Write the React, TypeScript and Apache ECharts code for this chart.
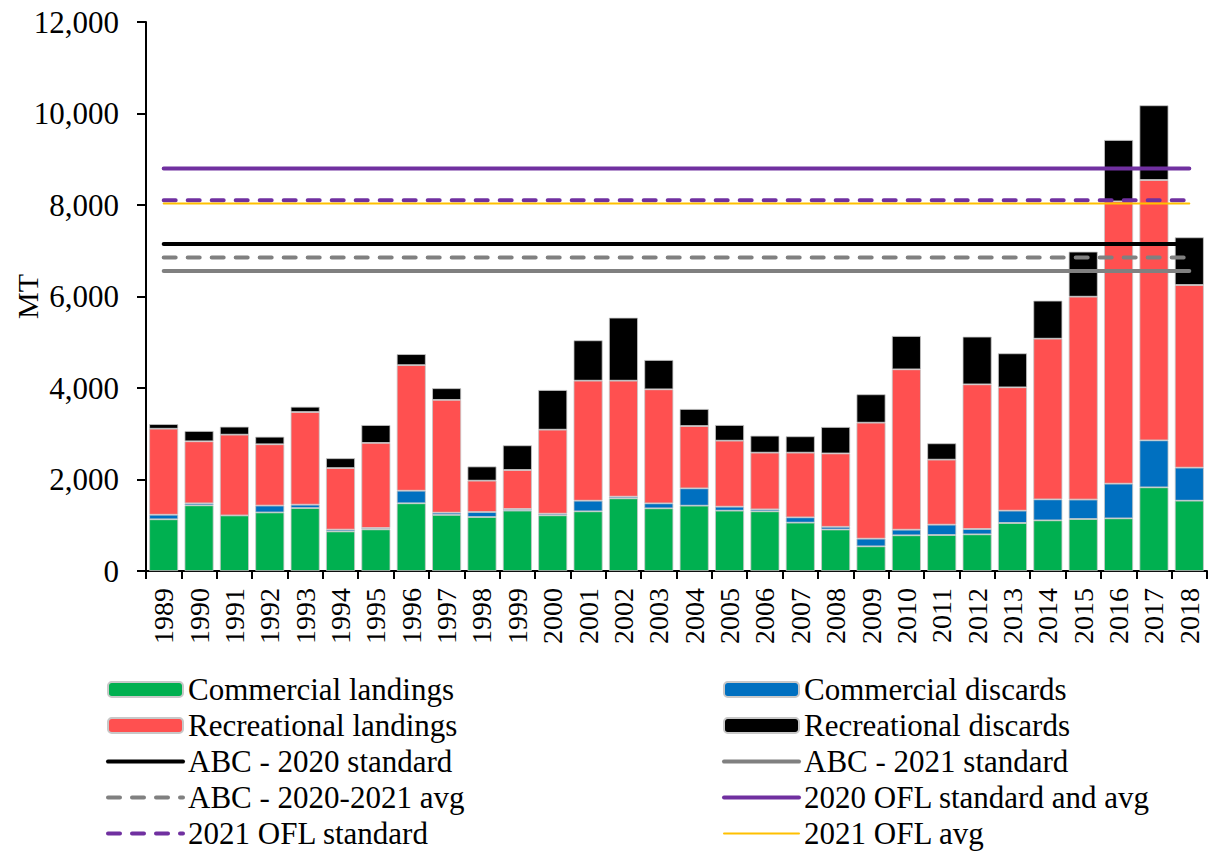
import React, { useEffect, useRef } from "react";
import * as echarts from "echarts";

const years = [
  "1989", "1990", "1991", "1992", "1993", "1994", "1995", "1996", "1997", "1998",
  "1999", "2000", "2001", "2002", "2003", "2004", "2005", "2006", "2007", "2008",
  "2009", "2010", "2011", "2012", "2013", "2014", "2015", "2016", "2017", "2018",
];

const commercialLandings = [
  1130, 1435, 1215, 1280, 1375, 865, 910, 1480, 1225, 1180,
  1320, 1217, 1304, 1588, 1370, 1428, 1319, 1304, 1057, 907,
  539, 780, 787, 801, 1049, 1107, 1137, 1151, 1829, 1537,
];
const commercialDiscards = [
  100, 45, 0, 150, 75, 40, 30, 275, 50, 110,
  35, 36, 233, 37, 109, 379, 87, 44, 116, 59,
  168, 123, 226, 117, 270, 459, 425, 758, 1027, 722,
];
const recreationalLandings = [
  1880, 1355, 1765, 1340, 2025, 1345, 1860, 2745, 2465, 685,
  853, 1836, 2623, 2535, 2492, 1362, 1443, 1239, 1414, 1604,
  2535, 3505, 1421, 3162, 2696, 3512, 4434, 6171, 5690, 3992,
];
const recreationalDiscards = [
  100, 225, 175, 165, 115, 215, 390, 240, 255, 310,
  539, 867, 882, 1377, 641, 372, 342, 371, 357, 578,
  620, 729, 357, 1042, 743, 831, 984, 1341, 1633, 1042,
];

const abc2020Standard = 7150;
const abc2021Standard = 6560;
const abcAvg = 6855;
const ofl2020 = 8800;
const ofl2021Standard = 8105;
const ofl2021Avg = 8035;

const yTicks = { min: 0, max: 12000, interval: 2000 };

const legendLeft = [
  "Commercial landings",
  "Recreational landings",
  "ABC - 2020 standard",
  "ABC - 2020-2021 avg",
  "2021 OFL standard",
];
const legendRight = [
  "Commercial discards",
  "Recreational discards",
  "ABC - 2021 standard",
  "2020 OFL standard and avg",
  "2021 OFL avg",
];
const barNames = [
  "Commercial landings",
  "Commercial discards",
  "Recreational landings",
  "Recreational discards",
];

const FONT = "Liberation Serif";

export default function App() {
  const ref = useRef<HTMLDivElement>(null);

  useEffect(() => {
    document.body.style.margin = "0";
    if (!ref.current) return;
    const chart = echarts.init(ref.current, null, { renderer: "svg" });

    const barBorder = { borderColor: "#c8c8c8", borderWidth: 0.8 };
    const bar = (name: string, data: number[], color: string) => ({
      name,
      type: "bar",
      stack: "total",
      data,
      barCategoryGap: "18%",
      itemStyle: { color, ...barBorder },
      emphasis: { disabled: true },
    });
    const hline = (
      name: string,
      value: number,
      color: string,
      width: number,
      dashed: boolean
    ) => ({
      name,
      type: "line",
      data: years.map(() => value),
      symbol: "none",
      showSymbol: false,
      z: 5,
      lineStyle: {
        color,
        width,
        type: dashed ? [12, 12] : "solid",
        cap: "round",
      },
      itemStyle: { color },
      emphasis: { disabled: true },
    });

    const legendItems = (names: string[]) =>
      names.map((n) =>
        barNames.includes(n) ? { name: n } : { name: n, itemStyle: { opacity: 0 } }
      );

    const legendCommon = {
      orient: "vertical",
      top: 674,
      padding: 0,
      itemWidth: 75,
      itemHeight: 15,
      itemGap: 5,
      selectedMode: false,
      lineStyle: { width: "inherit" },
      textStyle: {
        fontFamily: FONT,
        fontSize: 31,
        lineHeight: 30,
        color: "#000",
      },
    };

    chart.setOption({
      animation: false,
      textStyle: { fontFamily: FONT },
      grid: {
        left: 146,
        right: 5,
        top: 22,
        bottom: 280,
        containLabel: false,
        outerBoundsMode: "none",
      },
      legend: [
        { ...legendCommon, left: 106, data: legendItems(legendLeft) },
        { ...legendCommon, left: 722, data: legendItems(legendRight) },
      ],
      xAxis: {
        type: "category",
        data: years,
        boundaryGap: true,
        axisLine: { lineStyle: { color: "#000", width: 2 } },
        axisTick: { show: true, length: 8, lineStyle: { color: "#000", width: 2 } },
        axisLabel: {
          rotate: 90,
          margin: 17,
          fontFamily: FONT,
          fontSize: 28,
          color: "#000",
          interval: 0,
        },
        splitLine: { show: false },
      },
      yAxis: {
        type: "value",
        min: yTicks.min,
        max: yTicks.max,
        interval: yTicks.interval,
        name: "MT",
        nameLocation: "middle",
        nameGap: 104,
        nameMoveOverlap: false,
        nameTextStyle: { fontFamily: FONT, fontSize: 30, color: "#000" },
        axisLine: { show: true, lineStyle: { color: "#000", width: 2 } },
        axisTick: { show: true, length: 9, lineStyle: { color: "#000", width: 2 } },
        axisLabel: {
          margin: 27,
          fontFamily: FONT,
          fontSize: 31,
          color: "#000",
          formatter: (v: number) => v.toLocaleString("en-US"),
        },
        splitLine: { show: false },
      },
      series: [
        bar("Commercial landings", commercialLandings, "#00B050"),
        bar("Commercial discards", commercialDiscards, "#0070C0"),
        bar("Recreational landings", recreationalLandings, "#FF5050"),
        bar("Recreational discards", recreationalDiscards, "#000000"),
        hline("ABC - 2020 standard", abc2020Standard, "#000000", 4, false),
        hline("ABC - 2021 standard", abc2021Standard, "#808080", 4, false),
        hline("ABC - 2020-2021 avg", abcAvg, "#808080", 4, true),
        hline("2020 OFL standard and avg", ofl2020, "#7030A0", 4, false),
        hline("2021 OFL standard", ofl2021Standard, "#7030A0", 4, true),
        hline("2021 OFL avg", ofl2021Avg, "#FFC000", 2, false),
      ],
    });

    return () => chart.dispose();
  }, []);

  return <div ref={ref} style={{ width: 1212, height: 851 }} />;
}
